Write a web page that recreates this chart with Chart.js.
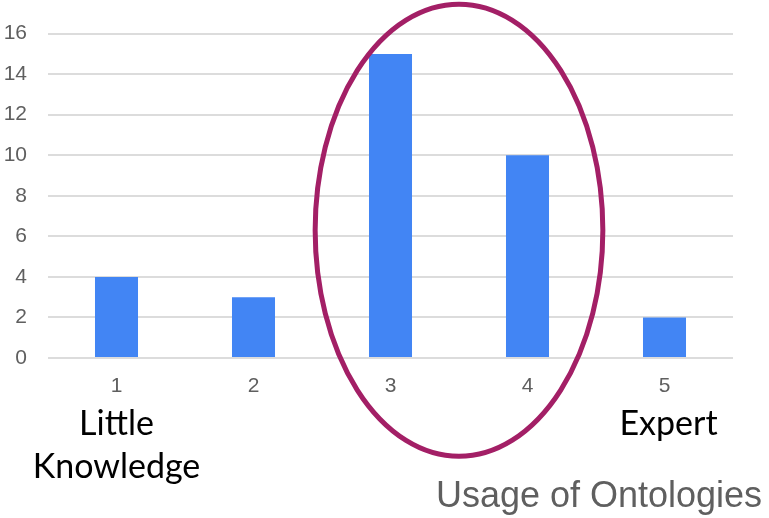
<!DOCTYPE html>
<html>
<head>
<meta charset="utf-8">
<script src="https://cdn.jsdelivr.net/npm/chart.js@4/dist/chart.umd.min.js"></script>
<style>
  html, body { margin: 0; padding: 0; background: #fff; }
  #wrap { width: 769px; height: 518px; position: relative; }
</style>
</head>
<body>
<div id="wrap"><canvas id="c" width="769" height="518"></canvas></div>
<script>
// Ontology usage survey: responses per self-rated level (1 = little knowledge, 5 = expert)
const levels = ['1', '2', '3', '4', '5'];
const responses = [4, 3, 15, 10, 2];
const yTicks = [0, 2, 4, 6, 8, 10, 12, 14, 16];
const lowLabel = ['Little', 'Knowledge'];
const highLabel = 'Expert';
const axisTitle = 'Usage of Ontologies';

// Highlight ring around levels 3 and 4, plus the scale end captions
const annotations = {
  id: 'annotations',
  afterDraw(chart) {
    const { ctx, scales: { x, y } } = chart;
    ctx.save();
    // ring centred between levels 3 and 4
    const cx = (x.getPixelForValue(2) + x.getPixelForValue(3)) / 2;
    const cy = y.getPixelForValue(6.3);
    const step = x.getPixelForValue(1) - x.getPixelForValue(0);
    const rx = step * 1.05;
    const ry = y.getPixelForValue(0) - y.getPixelForValue(11.15);
    ctx.beginPath();
    ctx.ellipse(cx, cy, rx, ry, 0, 0, Math.PI * 2);
    ctx.strokeStyle = '#a31f66';
    ctx.lineWidth = 5;
    ctx.stroke();

    ctx.fillStyle = '#000';
    ctx.font = '34px Lato, "Open Sans", sans-serif';
    ctx.textAlign = 'center';
    ctx.textBaseline = 'middle';
    const x1 = x.getPixelForValue(0);
    ctx.fillText(lowLabel[0], x1, 424);
    ctx.fillText(lowLabel[1], x1, 467);
    ctx.fillText(highLabel, x.getPixelForValue(4) + 4, 424);

    ctx.fillStyle = '#5f5f5f';
    ctx.font = '36px "Liberation Sans", Arial, sans-serif';
    ctx.fillText(axisTitle, 599, 497);
    ctx.restore();
  }
};

new Chart(document.getElementById('c'), {
  type: 'bar',
  data: {
    labels: levels,
    datasets: [{
      data: responses,
      backgroundColor: '#4285f4',
      borderWidth: 0,
      barPercentage: 0.314,
      categoryPercentage: 1.0
    }]
  },
  options: {
    responsive: false,
    animation: false,
    devicePixelRatio: 1,
    layout: { padding: { top: 32, right: 36, left: 0, bottom: 0 } },
    plugins: { legend: { display: false }, tooltip: { enabled: false } },
    scales: {
      x: {
        grid: { display: false, drawTicks: false },
        border: { display: false },
        ticks: { color: '#5f5f5f', font: { family: '"Liberation Sans", Arial', size: 21 }, padding: 16 },
        afterFit(s) { s.height = 160; }
      },
      y: {
        min: 0, max: 16,
        afterBuildTicks(s) { s.ticks = yTicks.map(v => ({ value: v })); },
        grid: { color: '#dcdcdc', lineWidth: 2, drawTicks: false },
        border: { display: false },
        ticks: { color: '#5f5f5f', font: { family: '"Liberation Sans", Arial', size: 21 }, padding: 21 },
        afterFit(s) { s.width = 48; }
      }
    }
  },
  plugins: [annotations]
});
</script>
</body>
</html>
